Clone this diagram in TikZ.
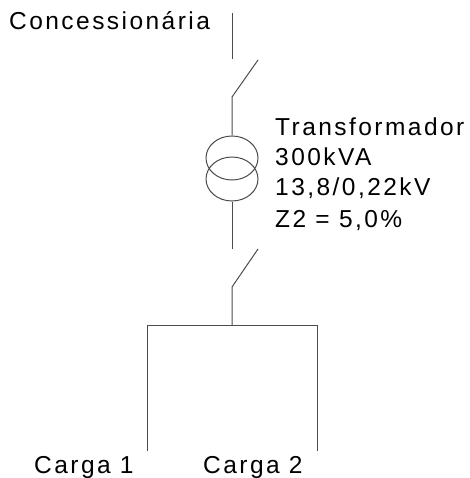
\documentclass[tikz,border=0pt]{standalone}
\usepackage{fontspec}
\setmainfont[LetterSpace=10]{Liberation Sans}
\usetikzlibrary{shapes.geometric}
\definecolor{linecolor}{gray}{0.3}
\begin{document}
\begin{tikzpicture}[
    x=1pt, y=-1pt,
    line/.style={linecolor, line width=1pt},
    coil/.style={draw=linecolor, line width=1pt, ellipse, minimum width=52pt, minimum height=44pt, inner sep=0pt},
    label/.style={anchor=base west, inner sep=0pt, font=\fontsize{24.5}{30.5}\selectfont}
]
\useasboundingbox (0,0) rectangle (469,478);

% Coordonnees de la ligne principale
\coordinate (Top) at (232,13);
\coordinate (TopEnd) at (232,59);
\coordinate (SwOneOpen) at (258,60);
\coordinate (SwOneHinge) at (232,97);
\coordinate (SwTwoTop) at (232,249);
\coordinate (SwTwoOpen) at (258,249);
\coordinate (SwTwoHinge) at (232,287);
\coordinate (BusMid) at (232,325);
\coordinate (BusLeft) at (147,325);
\coordinate (BusRight) at (317,325);
\coordinate (LoadOne) at (147,451);
\coordinate (LoadTwo) at (317,451);

% Transformateur
\node[coil] (CoilUp) at (232,158) {};
\node[coil] (CoilDown) at (232,179) {};

% Ligne et interrupteurs
\draw[line] (Top) -- (TopEnd);
\draw[line] (SwOneOpen) -- (SwOneHinge) -- (CoilUp.north);
\draw[line] (CoilDown.south) -- (SwTwoTop);
\draw[line] (SwTwoOpen) -- (SwTwoHinge) -- (BusMid);

% Barre et charges
\draw[line] (LoadOne) -- (BusLeft) -- (BusRight) -- (LoadTwo);

% Textes
\node[label] (Source) at (9,30) {Concessionária};
\node[label] (TrafoName) at (275,136) {Transformador};
\node[label] (TrafoPower) at (275,166) {300kVA};
\node[label] (TrafoVolt) at (275,196) {13,8/0,22kV};
\node[label] (TrafoZ) at (275,227) {Z2 = 5,0\%};
\node[label] (CargaOne) at (34,473) {Carga 1};
\node[label] (CargaTwo) at (203,473) {Carga 2};

\end{tikzpicture}
\end{document}
